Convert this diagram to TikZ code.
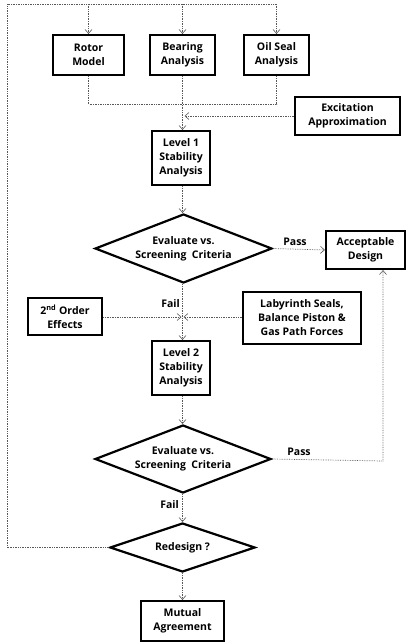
\documentclass[tikz,border=0pt]{standalone}
\usepackage{fontspec}
\setmainfont{Open Sans}
\usetikzlibrary{shapes.geometric,arrows.meta}
\tikzset{
  txt/.style={font=\bfseries\fontsize{10.5}{14}\selectfont},
  box/.style={txt, draw, line width=2.2pt, fill=white, align=center, inner sep=1pt},
  dia/.style={txt, draw, diamond, aspect=2.6, line width=2.2pt, fill=white, align=center, inner sep=0pt},
  conn/.style={gray!70!black, line width=0.7pt, densely dotted},
  arr/.style={conn, -{Straight Barb[length=4pt,width=7pt,line width=0.6pt]}},
  lbl/.style={txt, inner sep=0pt}
}
\begin{document}
\begin{tikzpicture}[x=1pt,y=-1pt]
\useasboundingbox (0,0) rectangle (406,643);
% nodes
\node[box, minimum width=71pt, minimum height=40pt] (rotor) at (88.5,55) {Rotor\\Model};
\node[box, minimum width=65pt, minimum height=40pt] (bearing) at (182.5,55) {Bearing\\Analysis};
\node[box, minimum width=65pt, minimum height=40pt] (oil) at (276.5,55) {Oil Seal\\Analysis};
\node[box, minimum width=105pt, minimum height=38pt] (exc) at (347.5,116) {Excitation\\Approximation};
\node[box, minimum width=58pt, minimum height=54pt] (lev1) at (181,158) {Level 1\\Stability\\Analysis};
\node[dia, minimum width=177pt, minimum height=69pt] (d1) at (183.5,248.5) {Evaluate vs.\\Screening\ \ Criteria};
\node[box, minimum width=79pt, minimum height=38pt] (acc) at (365.5,250) {Acceptable\\Design};
\node[box, minimum width=74pt, minimum height=37pt] (second) at (65,316.5) {2\textsuperscript{nd} Order\\Effects};
\node[box, minimum width=118pt, minimum height=52pt] (laby) at (302,318) {Labyrinth Seals,\\Balance Piston \&\\Gas Path Forces};
\node[box, minimum width=58pt, minimum height=54pt] (lev2) at (181,368) {Level 2\\Stability\\Analysis};
\node[dia, minimum width=176pt, minimum height=68pt] (d2) at (183,459) {Evaluate vs.\\Screening\ \ Criteria};
\node[dia, aspect=3, minimum width=145pt, minimum height=49pt] (red) at (182.5,547.5) {Redesign ?};
\node[box, minimum width=83pt, minimum height=40pt] (mut) at (182.5,621) {Mutual\\Agreement};
% coordinates
\coordinate (topL) at (7,4);
\coordinate (botL) at (7,547.5);
\coordinate (topR) at (276.5,4);
\coordinate (mergeY) at (0,104);
\coordinate (main) at (182.5,0);
\coordinate (cross) at (182.5,317);
\coordinate (accB) at (383,461);
% labels
\node[lbl] (pass1) at (295,242) {Pass};
\node[lbl, anchor=east] (fail1) at (180,304) {Fail};
\node[lbl] (pass2) at (299,452) {Pass};
\node[lbl, anchor=east] (fail2) at (179,505) {Fail};
% connectors
\draw[conn] (red.west) -- (botL) -- (topL) -- (topR);
\draw[arr] (topR) -- (oil.north);
\draw[arr] (rotor.north |- topL) -- (rotor.north);
\draw[arr] (bearing.north |- topL) -- (bearing.north);
\draw[conn] (rotor.south) -- (rotor.south |- mergeY) -- (oil.south |- mergeY) -- (oil.south);
\draw[arr] (bearing.south) -- (bearing.south |- lev1.north);
\draw[arr, shorten >=2pt] (exc.west) -- (main |- exc.west);
\draw[arr] (main |- lev1.south) -- (main |- d1.north);
\draw[arr] (d1.east) -- (acc.west);
\draw[arr] (main |- d1.south) -- (main |- lev2.north);
\draw[arr, shorten >=1pt] (second.east |- cross) -- (cross);
\draw[arr, shorten >=1pt] (laby.west |- cross) -- (cross);
\draw[arr] (main |- lev2.south) -- (main |- d2.north);
\draw[arr] (d2.east) -- (accB) -- (accB |- acc.south);
\draw[arr] (main |- d2.south) -- (red.north);
\draw[arr] (red.south) -- (mut.north);
\end{tikzpicture}
\end{document}
